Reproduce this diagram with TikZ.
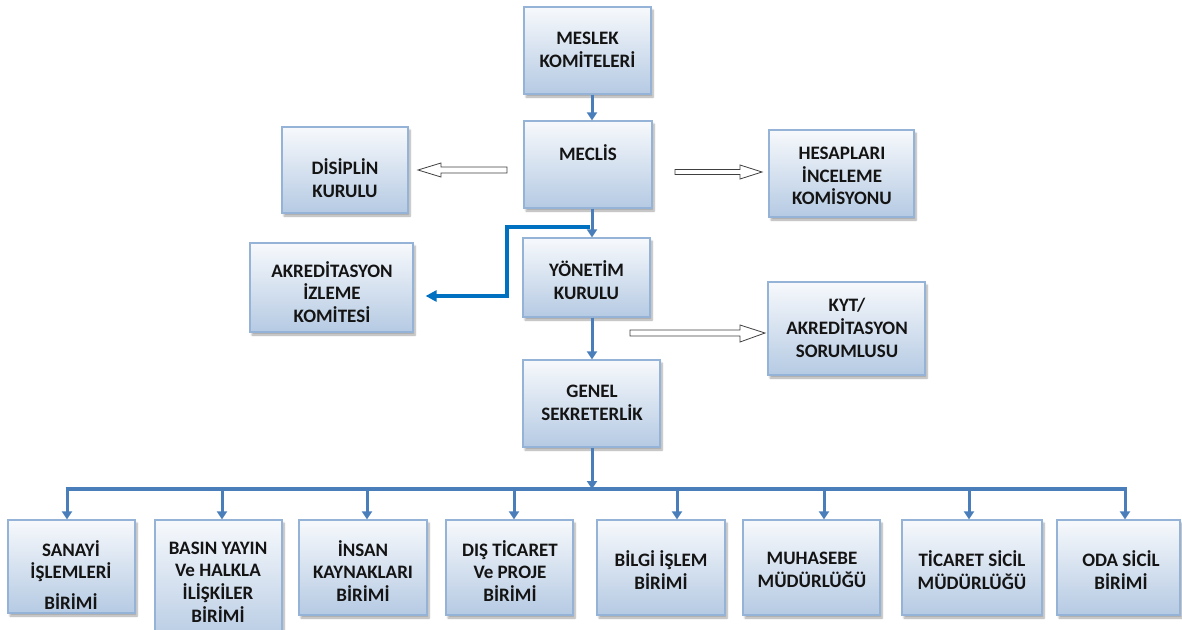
\documentclass[tikz,border=0pt]{standalone}
\usepackage{fontspec}
\setmainfont{Carlito}
\usetikzlibrary{arrows.meta,fit,calc,shadows.blur}
\definecolor{boxtop}{HTML}{F7F9FC}
\definecolor{boxbot}{HTML}{B5CAE3}
\definecolor{boxline}{HTML}{95B3D7}
\definecolor{arrblue}{HTML}{4A7EBB}
\definecolor{akrblue}{HTML}{0070C0}
\tikzset{
  box/.style={draw=boxline, line width=1.2pt, top color=boxtop, bottom color=boxbot, inner sep=0pt,
    blur shadow={shadow blur steps=6, shadow xshift=2pt, shadow yshift=-3pt, shadow opacity=35}},
  lbl/.style={align=center, inner sep=0pt, font=\fontsize{19}{22.8}\selectfont\bfseries, text=black!92},
  arr/.style={draw=arrblue, line width=3pt, -{Triangle[length=8pt,width=10pt]}},
  bus/.style={draw=arrblue, line width=4pt},
  akr/.style={draw=akrblue, line width=4pt, -{Triangle[length=11pt,width=11pt]}},
  hollow/.style={draw=black!75, fill=white, line width=0.8pt, line join=miter}
}
\begin{document}
\begin{tikzpicture}[x=1pt,y=-1pt]
\useasboundingbox (0,0) rectangle (1182,629);
% boxes
\node[box, fit={(524,7) (651,94)}] (meslek) {};
\node[box, fit={(524,121) (652,208)}] (meclis) {};
\node[box, fit={(282,127) (408,213)}] (disiplin) {};
\node[box, fit={(769,130) (914,217)}] (hesap) {};
\node[box, fit={(250,243) (413,332)}] (akred) {};
\node[box, fit={(523,238) (650,317)}] (yonetim) {};
\node[box, fit={(768,282) (925,375)}] (kyt) {};
\node[box, fit={(523,360) (660,447)}] (genel) {};
\node[box, fit={(8,520) (135,613)}] (sanayi) {};
\node[box, fit={(155,520) (282,645)}] (basin) {};
\node[box, fit={(299,520) (427,615)}] (insan) {};
\node[box, fit={(446,520) (573,615)}] (dis) {};
\node[box, fit={(597,520) (725,615)}] (bilgi) {};
\node[box, fit={(743,520) (880,615)}] (muhasebe) {};
\node[box, fit={(902,520) (1042,615)}] (ticaret) {};
\node[box, fit={(1057,520) (1180,615)}] (oda) {};
% labels
\node[lbl] (meslek-t) at (587.5,50) {MESLEK\\KOMİTELERİ};
\node[lbl] (meclis-t) at (588,153) {MECLİS};
\node[lbl] (disiplin-t) at (345,178.5) {DİSİPLİN\\KURULU};
\node[lbl] (hesap-t) at (842,176) {HESAPLARI\\İNCELEME\\KOMİSYONU};
\node[lbl] (akred-t) at (332,292) {AKREDİTASYON\\İZLEME\\KOMİTESİ};
\node[lbl] (yonetim-t) at (586.5,280) {YÖNETİM\\KURULU};
\node[lbl] (kyt-t) at (847,328) {KYT/\\AKREDİTASYON\\SORUMLUSU};
\node[lbl] (genel-t) at (592,403) {GENEL\\SEKRETERLİK};
\node[lbl] (sanayi-t) at (71,575) {SANAYİ\\İŞLEMLERİ\\[8pt]BİRİMİ};
\node[lbl] (basin-t) at (218,582) {BASIN YAYIN\\Ve HALKLA\\İLİŞKİLER\\BİRİMİ};
\node[lbl] (insan-t) at (363,571) {İNSAN\\KAYNAKLARI\\BİRİMİ};
\node[lbl] (dis-t) at (510,571) {DIŞ TİCARET\\Ve PROJE\\BİRİMİ};
\node[lbl] (bilgi-t) at (661,570) {BİLGİ İŞLEM\\BİRİMİ};
\node[lbl] (muhasebe-t) at (812,570) {MUHASEBE\\MÜDÜRLÜĞÜ};
\node[lbl] (ticaret-t) at (972,570) {TİCARET SİCİL\\MÜDÜRLÜĞÜ};
\node[lbl] (oda-t) at (1121,570) {ODA SİCİL\\BİRİMİ};
% vertical spine
\coordinate (c1) at (592,0);
\coordinate (busc) at (592,489);
\draw[arr] (meslek.south -| c1) -- (meclis.north -| c1);
\draw[arr] (meclis.south -| c1) -- (yonetim.north -| c1);
\draw[arr] (yonetim.south -| c1) -- (genel.north -| c1);
\draw[arr] (genel.south -| c1) -- (busc);
% bus
\coordinate (d1) at (67,489);
\coordinate (d2) at (222,489);
\coordinate (d3) at (367,489);
\coordinate (d4) at (514,489);
\coordinate (d5) at (677,489);
\coordinate (d6) at (824,489);
\coordinate (d7) at (969,489);
\coordinate (d8) at (1125,489);
\draw[bus] ([xshift=-1.5pt]d1) -- ([xshift=1.5pt]d8);
\draw[arr] (d1) -- (d1 |- sanayi.north);
\draw[arr] (d2) -- (d2 |- basin.north);
\draw[arr] (d3) -- (d3 |- insan.north);
\draw[arr] (d4) -- (d4 |- dis.north);
\draw[arr] (d5) -- (d5 |- bilgi.north);
\draw[arr] (d6) -- (d6 |- muhasebe.north);
\draw[arr] (d7) -- (d7 |- ticaret.north);
\draw[arr] (d8) -- (d8 |- oda.north);
% akreditasyon branch
\coordinate (k0) at (590,227);
\coordinate (k1) at (507,227);
\coordinate (k2) at (507,296);
\draw[akr, line join=miter] (k0) -- (k1) -- (k2) -- ($(akred.east)+(12,8.5)$);
% hollow block arrows
\draw[hollow] (418,170) -- (441,163) -- (441,167) -- (507,167) -- (507,173) -- (441,173) -- (441,177) -- cycle;
\draw[hollow] (762,172) -- (740,165) -- (740,169.5) -- (675,169.5) -- (675,174.5) -- (740,174.5) -- (740,179) -- cycle;
\draw[hollow] (765,333) -- (740,325) -- (740,330) -- (630,330) -- (630,336) -- (740,336) -- (740,342) -- cycle;
\end{tikzpicture}
\end{document}
